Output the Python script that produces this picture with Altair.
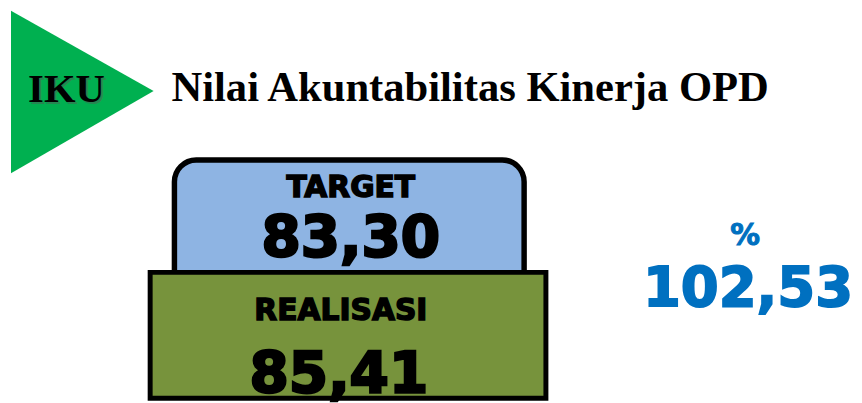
import altair as alt
import pandas as pd

# ---- data ----
labels = ["TARGET", "REALISASI"]
values = [83.30, 85.41]
percent_label = "%"
percent_value = 102.53
badge_text = "IKU"
title_text = "Nilai Akuntabilitas Kinerja OPD"

def fmt(v):
    return f"{v:.2f}".replace(".", ",")

# ---- layout (pixel coordinates of the picture) ----
W, H = 862, 403
xs = alt.Scale(domain=[8, W], nice=False, zero=False)
ys = alt.Scale(domain=[8, H], nice=False, zero=False, reverse=True)

def X(f="x"):
    return alt.X(f"{f}:Q", scale=xs, axis=None)

def Y(f="y"):
    return alt.Y(f"{f}:Q", scale=ys, axis=None)

# triangle
tri = pd.DataFrame({"x": [11, 155], "y": [9, 90], "y2": [173, 90]})
triangle = alt.Chart(tri).mark_area(color="#00B050", interpolate="linear").encode(
    x=X(), y=Y(), y2=alt.Y2("y2:Q")
)

# boxes
box_blue = pd.DataFrame({"x": [176], "x2": [529], "y": [159.5], "y2": [300]})
blue = alt.Chart(box_blue).mark_rect(
    fill="#8EB4E3", stroke="black", strokeWidth=5.5, cornerRadius=22
).encode(x=X(), x2="x2:Q", y=Y(), y2="y2:Q")

box_green = pd.DataFrame({"x": [151.5], "x2": [551], "y": [273], "y2": [400]})
green = alt.Chart(box_green).mark_rect(
    fill="#77933C", stroke="black", strokeWidth=5
).encode(x=X(), x2="x2:Q", y=Y(), y2="y2:Q")

def text_layer(df, **kw):
    return alt.Chart(df).mark_text(**kw).encode(x=X(), y=Y(), text="t:N")

# IKU badge with shadow
iku_df = pd.DataFrame({"x": [67], "y": [101], "t": [badge_text]})
iku_shadow = text_layer(iku_df, font="Liberation Serif", fontWeight="bold", fontSize=41,
                        baseline="alphabetic", align="center", color="#555555",
                        opacity=0.45, dx=2, dy=2)
iku = text_layer(iku_df, font="Liberation Serif", fontWeight="bold", fontSize=41,
                 baseline="alphabetic", align="center", color="black")

# title
title_df = pd.DataFrame({"x": [173], "y": [100], "t": [title_text]})
title = text_layer(title_df, font="Liberation Serif", fontWeight="bold", fontSize=43,
                   baseline="alphabetic", align="left", color="black")

# labels in boxes
lab_df = pd.DataFrame({"x": [354, 344], "y": [197, 321], "t": labels})
lab = text_layer(lab_df, font="DejaVu Sans", fontWeight="bold", fontSize=30,
                 baseline="alphabetic", align="center", color="black",
                 stroke="black", strokeWidth=1.5)

val_df = pd.DataFrame({"x": [354, 342], "y": [257, 395], "t": [fmt(v) for v in values]})
val = text_layer(val_df, font="DejaVu Sans", fontWeight="bold", fontSize=57,
                 baseline="alphabetic", align="center", color="black",
                 stroke="black", strokeWidth=2.5)

# percentage
pct_df = pd.DataFrame({"x": [752, 755], "y": [245, 307],
                       "t": [percent_label, fmt(percent_value)]})
pct_sym = text_layer(pct_df.iloc[[0]], font="DejaVu Sans", fontWeight="bold", fontSize=30,
                     baseline="alphabetic", align="center", color="#0070C0",
                     stroke="#0070C0", strokeWidth=1)
pct_val = text_layer(pct_df.iloc[[1]], font="DejaVu Sans", fontWeight="bold", fontSize=55,
                     baseline="alphabetic", align="center", color="#0070C0",
                     stroke="#0070C0", strokeWidth=1.8)

chart = alt.layer(
    triangle, blue, green, iku_shadow, iku, title, lab, val, pct_sym, pct_val
).properties(
    width=W - 8, height=H - 8, padding=0, autosize=alt.AutoSizeParams(type="none"),
    background="white"
).configure_view(stroke=None)

chart.save("out.html", embed_options={"renderer": "svg", "actions": False})
